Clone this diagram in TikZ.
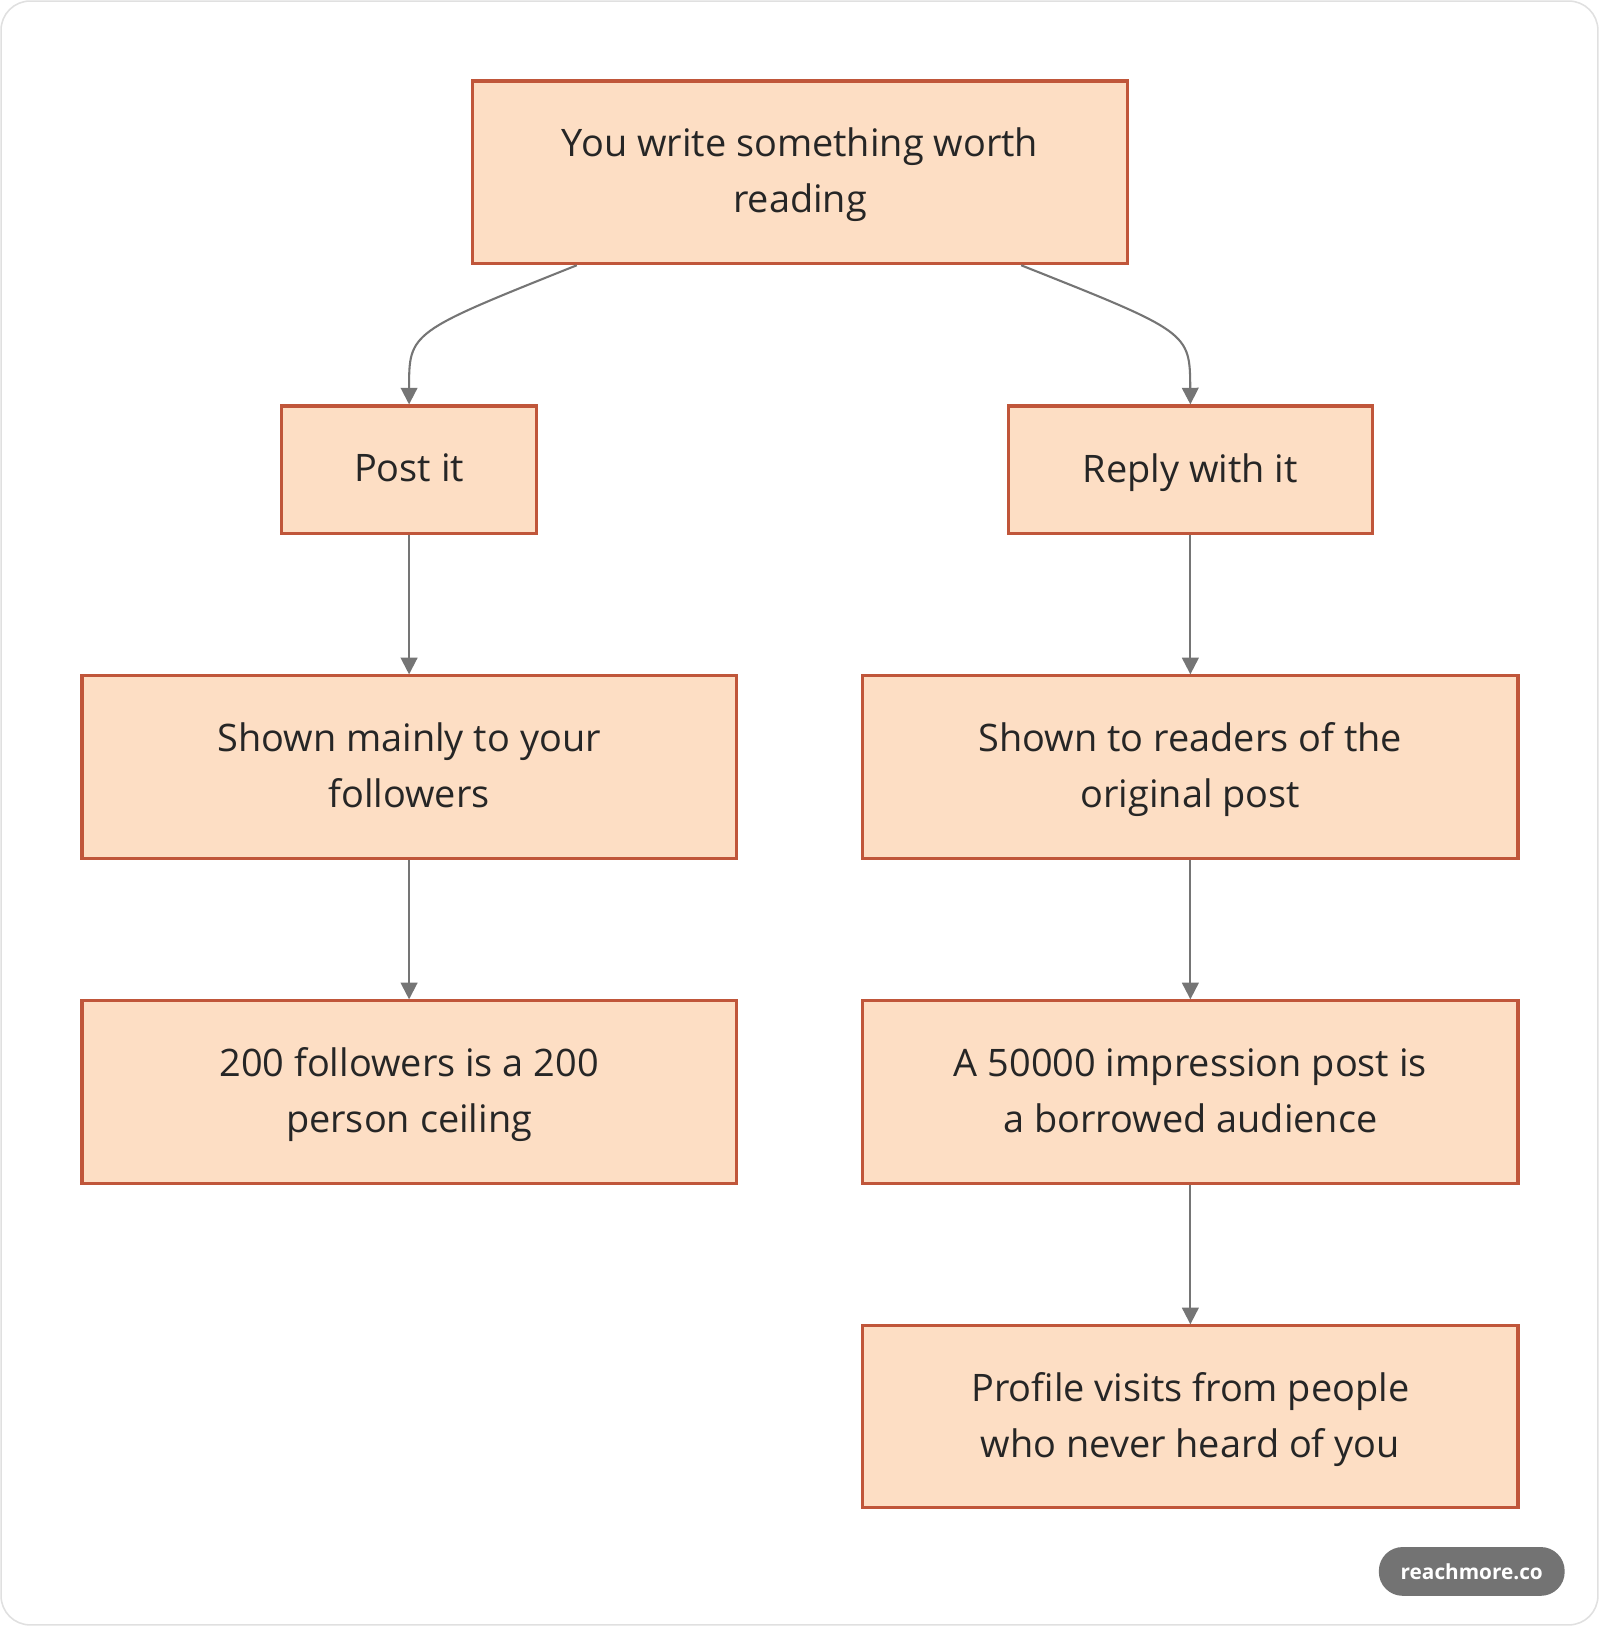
\documentclass[tikz,border=0pt]{standalone}
\usepackage{fontspec}
\setmainfont{Open Sans}
\usetikzlibrary{arrows.meta}
\definecolor{boxfill}{HTML}{FDDEC4}
\definecolor{boxdraw}{HTML}{C0563A}
\definecolor{arr}{HTML}{757575}
\begin{document}
\begin{tikzpicture}[x=1pt,y=-1pt,
  box/.style={draw=boxdraw,fill=boxfill,line width=3pt,align=center,inner sep=0pt,
    font=\fontsize{36.5}{54}\selectfont,text=black!85,text depth=4pt},
  conn/.style={draw=arr,line width=2pt,-{Triangle[length=16pt,width=16pt]}}]
\useasboundingbox (0,0) rectangle (1541,1568);
\draw[draw=black!12,line width=1.5pt,rounded corners=28pt,fill=white] (1,1) rectangle (1539,1565);
\node[box,minimum width=631,minimum height=176] (top) at (770.5,166) {You write something worth\\reading};
\node[box,minimum width=246,minimum height=123] (post) at (394,452.5) {Post it};
\node[box,minimum width=351,minimum height=123] (reply) at (1146.5,452.5) {Reply with it};
\node[box,minimum width=630,minimum height=176] (shownA) at (394,739) {Shown mainly to your\\followers};
\node[box,minimum width=631,minimum height=176] (shownB) at (1146.5,739) {Shown to readers of the\\original post};
\node[box,minimum width=630,minimum height=176] (ceil) at (394,1052) {200 followers is a 200\\person ceiling};
\node[box,minimum width=631,minimum height=176] (borrow) at (1146.5,1052) {A 50000 impression post is\\a borrowed audience};
\node[box,minimum width=631,minimum height=175] (visits) at (1146.5,1364.5) {Profile visits from people\\who never heard of you};
\draw[conn] ([xshift=102]top.south west) .. controls (394,320) .. (post.north);
\draw[conn] ([xshift=-104]top.south east) .. controls (1146,320) .. (reply.north);
\draw[conn] (post) -- (shownA);
\draw[conn] (shownA) -- (ceil);
\draw[conn] (reply) -- (shownB);
\draw[conn] (shownB) -- (borrow);
\draw[conn] (borrow) -- (visits);
\node[fill=black!55,text=white,rounded corners=23pt,minimum width=179,minimum height=47,
  font=\fontsize{20}{24}\selectfont\bfseries] (wm) at (1417.5,1513.5) {reachmore.co};
\end{tikzpicture}
\end{document}
